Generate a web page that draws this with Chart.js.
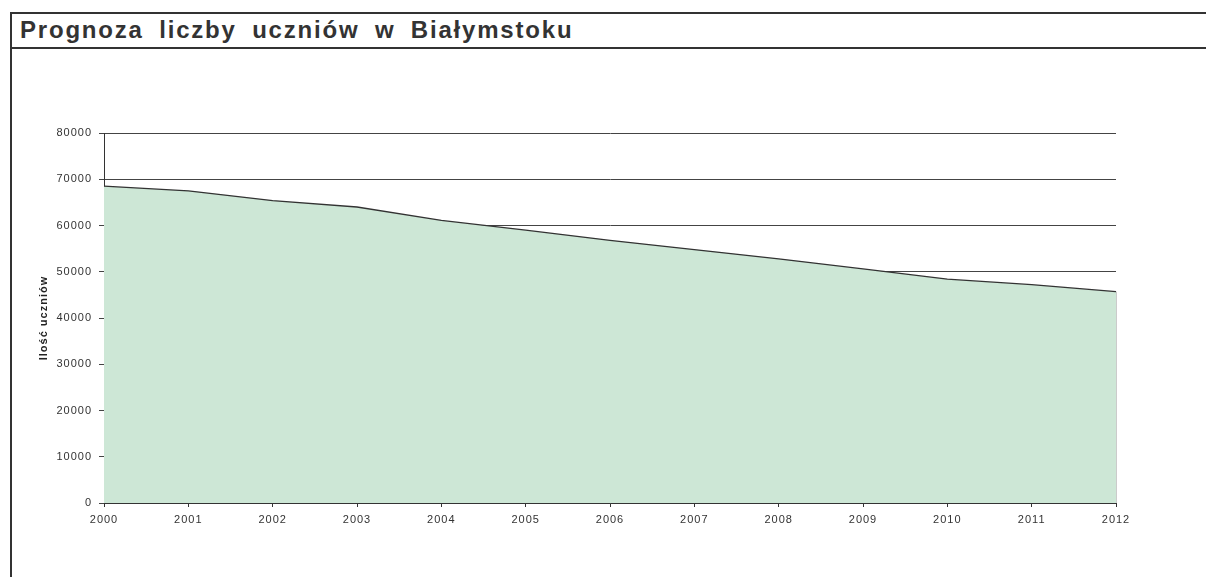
<!DOCTYPE html>
<html lang="pl">
<head>
<meta charset="utf-8">
<title>Prognoza liczby uczniów w Białymstoku</title>
<script src="https://cdn.jsdelivr.net/npm/chart.js@4/dist/chart.umd.min.js"></script>
<style>
  html, body { margin: 0; padding: 0; background: #fff; }
  body { width: 1206px; height: 577px; position: relative; overflow: hidden; font-family: "Liberation Sans", Arial, sans-serif; }
  .title-box {
    position: absolute; top: 12px; left: 10px; right: 0; height: 33px;
    border-top: 2px solid #333; border-bottom: 2px solid #333; border-left: 2px solid #333;
  }
  .title-box h1 {
    margin: 0; padding-left: 8px; font-size: 24px; line-height: 31px; font-weight: bold;
    color: #333; letter-spacing: 1.8px; word-spacing: 7px; white-space: nowrap;
  }
  .left-rule { position: absolute; left: 10px; top: 12px; bottom: 0; width: 2px; background: #333; }
  #chart { position: absolute; left: 0; top: 0; }
</style>
</head>
<body>
<div class="left-rule"></div>
<div class="title-box"><h1>Prognoza liczby uczniów w Białymstoku</h1></div>
<canvas id="chart" width="1206" height="577"></canvas>
<script>
// ── Data ─────────────────────────────────────────────────────
const years    = ['2000','2001','2002','2003','2004','2005','2006','2007','2008','2009','2010','2011','2012'];
const students = [68500, 67500, 65400, 64000, 61100, 59000, 56800, 54800, 52800, 50600, 48400, 47200, 45700];
const yTicks   = [0, 10000, 20000, 30000, 40000, 50000, 60000, 70000, 80000];
const yTitle   = 'Ilość uczniów';

const ink = '#333';
const tickFont = { family: '"Liberation Sans", Arial, sans-serif', size: 11 };

// closing edge of the area at the last year
const lastYear = years[years.length - 1];
const edge = [{ x: lastYear, y: 0 }, { x: lastYear, y: students[students.length - 1] }];

// letter spacing like the original renderer
const spacing = {
  id: 'spacing',
  beforeDraw(chart) { chart.ctx.letterSpacing = '1px'; }
};

new Chart(document.getElementById('chart'), {
  type: 'line',
  data: {
    labels: years,
    datasets: [
      {
        data: students,
        fill: 'origin',
        backgroundColor: '#cde7d6',
        borderColor: ink,
        borderWidth: 1.3,
        pointRadius: 0,
        tension: 0
      },
      {
        data: edge,
        fill: false,
        borderColor: ink,
        borderWidth: 1,
        pointRadius: 0
      }
    ]
  },
  options: {
    responsive: false,
    animation: false,
    events: [],
    layout: { padding: { left: 0, top: 133, right: 90, bottom: 44 } },
    plugins: { legend: { display: false }, tooltip: { enabled: false } },
    scales: {
      x: {
        type: 'category',
        offset: false,
        afterFit: s => { s.height = 30; },
        grid: { drawOnChartArea: false, drawTicks: true, tickLength: 4, color: ink },
        border: { display: true, color: ink, width: 1 },
        ticks: { color: ink, font: tickFont, padding: 6, maxRotation: 0, autoSkip: false }
      },
      y: {
        min: yTicks[0],
        max: yTicks[yTicks.length - 1],
        afterFit: s => { s.width = 104; },
        afterBuildTicks: s => { s.ticks = yTicks.map(v => ({ value: v })); },
        grid: { color: '#444', lineWidth: 1, tickLength: 5 },
        border: { display: true, color: ink, width: 1 },
        ticks: { color: ink, font: tickFont, padding: 7, callback: v => String(v) },
        title: {
          display: true,
          text: yTitle,
          color: '#222',
          font: { family: '"Liberation Sans", Arial, sans-serif', size: 11, weight: 'bold' },
          padding: { top: 37, bottom: 0 }
        }
      }
    }
  },
  plugins: [spacing]
});
</script>
</body>
</html>
